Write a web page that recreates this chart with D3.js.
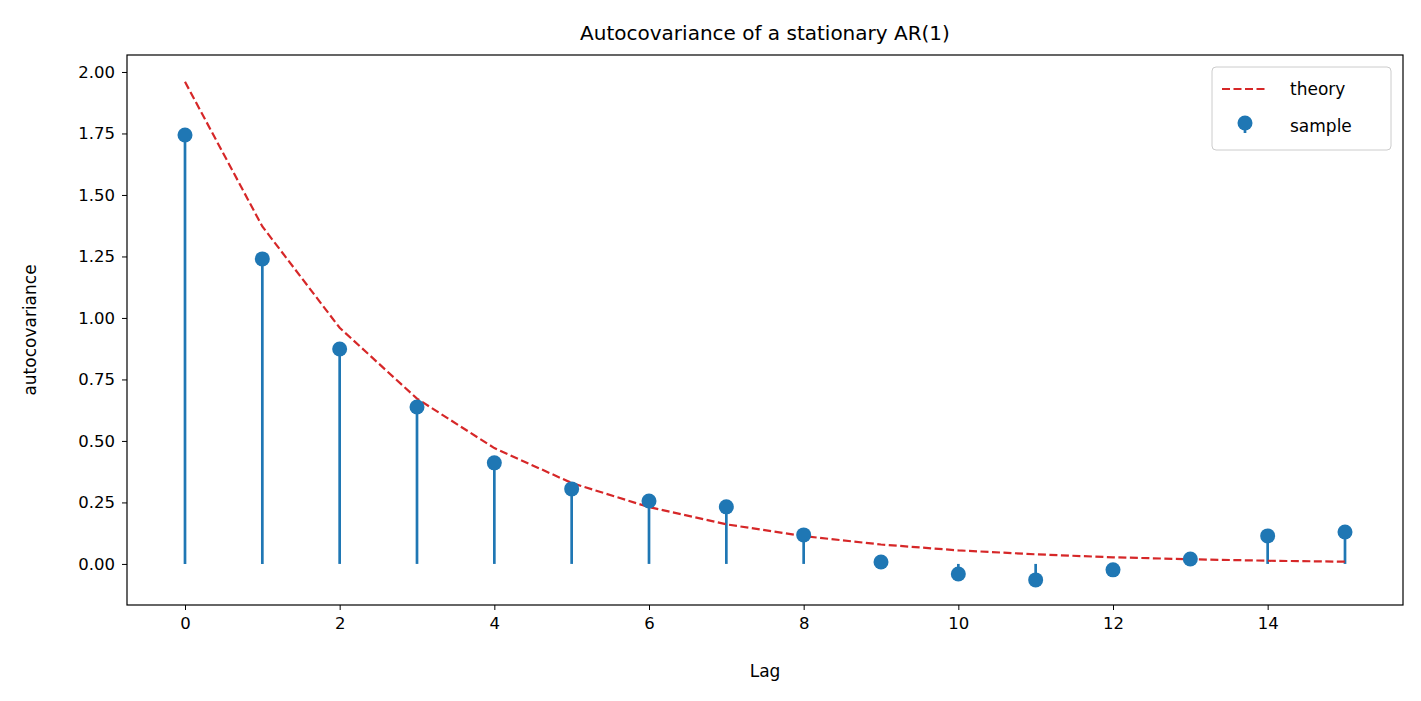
<!DOCTYPE html>
<html><head><meta charset="utf-8">
<script src="https://cdn.jsdelivr.net/npm/d3@7"></script>
<style>body{margin:0;background:#fff}text{font-family:"DejaVu Sans",sans-serif}</style>
</head><body><svg id="c" width="1421" height="701"></svg>
<script>
const lags=[0,1,2,3,4,5,6,7,8,9,10,11,12,13,14,15];
const sample=[1.744,1.240,0.874,0.638,0.411,0.305,0.256,0.232,0.118,0.008,-0.041,-0.065,-0.024,0.020,0.114,0.130];
const theory=[1.96,1.372,0.960,0.672,0.471,0.329,0.231,0.161,0.113,0.079,0.055,0.039,0.027,0.019,0.013,0.009];
const xTicks=[0,2,4,6,8,10,12,14];
const yTicks=[0,0.25,0.5,0.75,1.0,1.25,1.5,1.75,2.0];
const svg=d3.select("#c");
const L=127,R=1403,T=55,B=605;
const x=d3.scaleLinear().domain([-0.75,15.75]).range([L,R]);
const y=d3.scaleLinear().domain([-0.167,2.069]).range([B,T]);
const blue="#1f77b4",red="#d62728";
const xa=svg.append("g").attr("transform",`translate(0,${B})`).call(d3.axisBottom(x).tickValues(xTicks).tickSize(5).tickPadding(7).tickFormat(d3.format("d")));
const ya=svg.append("g").attr("transform",`translate(${L},0)`).call(d3.axisLeft(y).tickValues(yTicks).tickSize(5).tickPadding(7).tickFormat(d3.format(".2f")));
[xa,ya].forEach(a=>{a.selectAll("text").attr("font-size",16.5).attr("fill","#000");a.select(".domain").remove();a.selectAll("line").attr("stroke","#000");});
svg.selectAll(".stem").data(lags).enter().append("line").attr("x1",d=>x(d)).attr("x2",d=>x(d)).attr("y1",y(0)).attr("y2",(d,i)=>y(sample[i])).attr("stroke",blue).attr("stroke-width",2.7);
svg.append("path").datum(lags).attr("fill","none").attr("stroke",red).attr("stroke-width",2.2).attr("stroke-dasharray","8,3.5")
 .attr("d",d3.line().x(d=>x(d)).y((d,i)=>y(theory[i])));
svg.selectAll(".dot").data(lags).enter().append("circle").attr("cx",d=>x(d)).attr("cy",(d,i)=>y(sample[i])).attr("r",7.5).attr("fill",blue);
svg.append("rect").attr("x",L).attr("y",T).attr("width",R-L).attr("height",B-T).attr("fill","none").attr("stroke","#000").attr("stroke-width",1.2);
svg.append("text").attr("x",(L+R)/2).attr("y",40).attr("text-anchor","middle").attr("font-size",20).text("Autocovariance of a stationary AR(1)");
svg.append("text").attr("x",(L+R)/2).attr("y",677).attr("text-anchor","middle").attr("font-size",17).text("Lag");
svg.append("text").attr("transform","translate(36,330) rotate(-90)").attr("text-anchor","middle").attr("font-size",17).text("autocovariance");
const lg=svg.append("g");
lg.append("rect").attr("x",1212).attr("y",67).attr("width",179).attr("height",83).attr("rx",4).attr("fill","#fff").attr("stroke","#ccc");
lg.append("line").attr("x1",1222).attr("x2",1268).attr("y1",89).attr("y2",89).attr("stroke",red).attr("stroke-width",2.2).attr("stroke-dasharray","8,3.5");
lg.append("line").attr("x1",1245).attr("x2",1245).attr("y1",125).attr("y2",133).attr("stroke",blue).attr("stroke-width",2.7);
lg.append("circle").attr("cx",1245).attr("cy",123).attr("r",7.5).attr("fill",blue);
lg.append("text").attr("x",1290).attr("y",95).attr("font-size",17).text("theory");
lg.append("text").attr("x",1290).attr("y",132).attr("font-size",17).text("sample");
</script></body></html>
